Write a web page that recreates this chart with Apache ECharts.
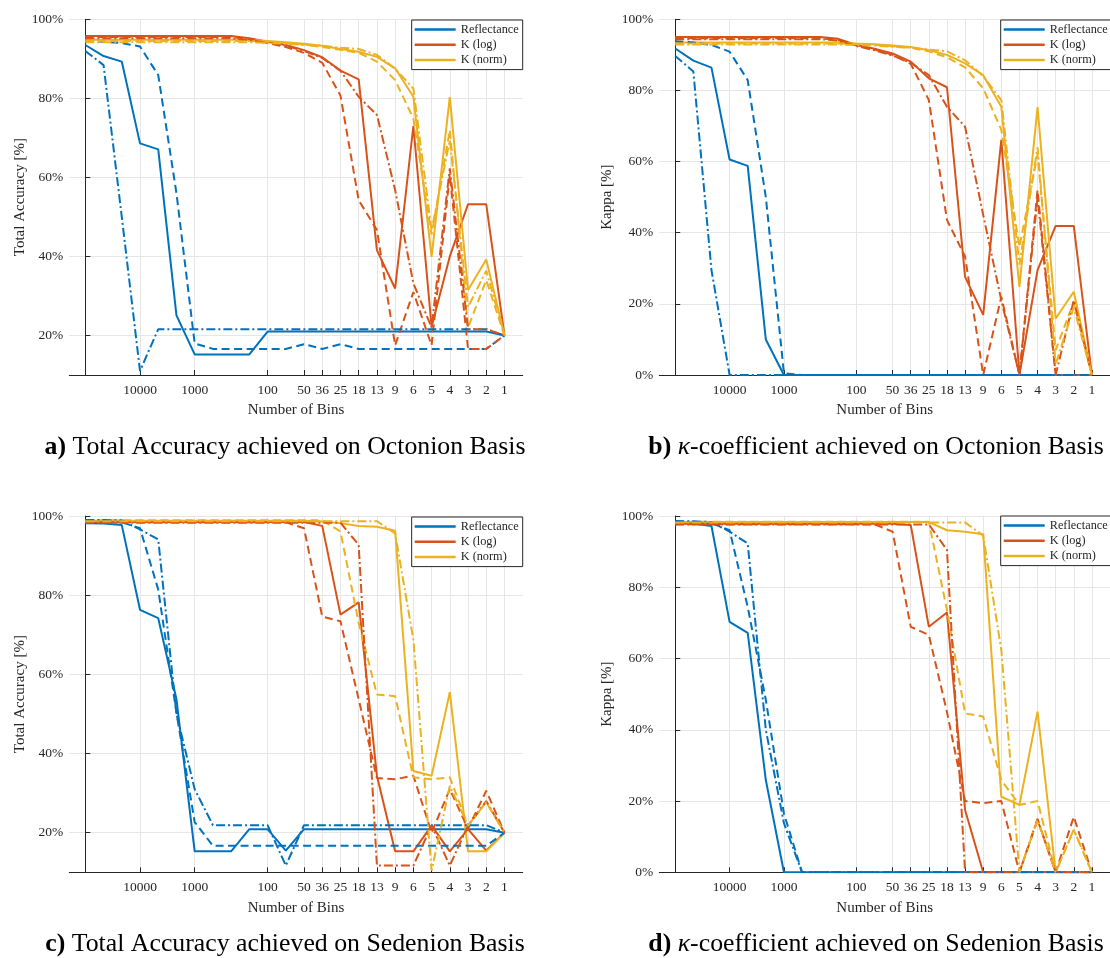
<!DOCTYPE html>
<html>
<head>
<meta charset="utf-8">
<script src="https://cdn.jsdelivr.net/npm/echarts@6/dist/echarts.min.js"></script>
<style>
  html, body { margin: 0; padding: 0; background: #fff; }
  #chart { width: 1110px; height: 958px; }
</style>
</head>
<body>
<div id="chart"></div>
<script>
// x positions are indices 0..23, only some of them carry a tick label
const xTickPos = [3, 6, 10, 12, 13, 14, 15, 16, 17, 18, 19, 20, 21, 22, 23]
const xLabels = ["10000", "1000", "100", "50", "36", "25", "18", "13", "9", "6", "5", "4", "3", "2", "1"]
const accTicks = [20, 40, 60, 80, 100]
const kappaTicks = [0, 20, 40, 60, 80, 100]
const legendNames = ["Reflectance", "K (log)", "K (norm)"]

// a) total accuracy, octonion
const aRefSolid = [93.5, 90.7, 89.3, 68.6, 67.1, 25.1, 15.2, 15.2, 15.2, 15.2, 21, 21, 21, 21, 21, 21, 21, 21, 21, 21, 21, 21, 21, 20]
const aRefDash = [94.5, 94.3, 94.0, 93.1, 85.9, 56, 18.0, 16.6, 16.6, 16.6, 16.6, 16.6, 17.8, 16.6, 17.8, 16.6, 16.6, 16.6, 16.6, 16.6, 16.6, 16.6, 16.6, 20]
const aRefDot = [92.0, 88.4, 50, 11.0, 21.6, 21.6, 21.6, 21.6, 21.6, 21.6, 21.6, 21.6, 21.6, 21.6, 21.6, 21.6, 21.6, 21.6, 21.6, 21.6, 21.6, 21.6, 21.6, 20]
const aLogSolid = [95.8, 95.8, 95.8, 95.8, 95.8, 95.8, 95.8, 95.8, 95.8, 95.2, 94.3, 93.5, 92.2, 90.4, 87.0, 84.8, 41.6, 31.9, 73.0, 22.2, 40, 53.2, 53.2, 20]
const aLogDash = [95.5, 95.5, 95.5, 95.5, 95.5, 95.5, 95.5, 95.5, 95.5, 95.0, 94.0, 93.0, 91.5, 89, 80.7, 54.2, 46.7, 17.5, 31, 17.5, 60.7, 16.6, 16.6, 20]
const aLogDot = [95.2, 95.2, 95.2, 95.2, 95.2, 95.2, 95.2, 95.2, 95.2, 94.8, 94.0, 93.3, 92.0, 90.2, 87.0, 80.4, 75.8, 56.8, 33.2, 22.0, 62.3, 21.6, 21.6, 20]
const aNormSolid = [94.8, 94.8, 94.8, 94.8, 94.8, 94.8, 94.8, 94.8, 94.8, 94.8, 94.5, 94.2, 93.8, 93.3, 92.5, 91.8, 90.5, 87.6, 80.4, 39.9, 80.3, 31.5, 39.2, 20]
const aNormDash = [94.5, 94.5, 94.5, 94.5, 94.5, 94.5, 94.5, 94.5, 94.5, 94.5, 94.3, 94.0, 93.6, 93.0, 92.3, 91.5, 89.3, 84.6, 74.9, 45.5, 72, 22, 34, 20]
const aNormDot = [94.2, 94.2, 94.2, 94.2, 94.2, 94.2, 94.2, 94.2, 94.2, 94.2, 94.0, 93.8, 93.5, 93.3, 92.8, 92.5, 91, 87.5, 82.5, 46.6, 69.4, 27.2, 36.4, 20]

// b) kappa, octonion
const bRefSolid = [91.8, 88.4, 86.4, 60.6, 58.8, 10.0, 0, 0, 0, 0, 0, 0, 0, 0, 0, 0, 0, 0, 0, 0, 0, 0, 0, 0]
const bRefDash = [93.8, 93.5, 92.8, 90.9, 82.9, 50, 0.5, 0, 0, 0, 0, 0, 0, 0, 0, 0, 0, 0, 0, 0, 0, 0, 0, 0]
const bRefDot = [89.7, 85.3, 29.5, 0, 0, 0, 0, 0, 0, 0, 0, 0, 0, 0, 0, 0, 0, 0, 0, 0, 0, 0, 0, 0]
const bLogSolid = [95.0, 95.0, 95.0, 95.0, 95.0, 95.0, 95.0, 95.0, 95.0, 94.5, 92.8, 91.7, 90.4, 88.1, 83.4, 80.9, 27.6, 16.9, 66.1, 0, 29.5, 41.9, 41.9, 0]
const bLogDash = [94.7, 94.7, 94.7, 94.7, 94.7, 94.7, 94.7, 94.7, 94.7, 94.2, 92.6, 91.5, 90, 87.5, 77.3, 43.6, 33.3, 0, 22, 0, 52, 0, 0, 0]
const bLogDot = [94.4, 94.4, 94.4, 94.4, 94.4, 94.4, 94.4, 94.4, 94.4, 94.0, 92.5, 91.3, 89.8, 87.8, 84.3, 75.4, 69.8, 45, 21, 0, 50, 0, 21, 0]
const bNormSolid = [93.5, 93.5, 93.5, 93.5, 93.5, 93.5, 93.5, 93.5, 93.5, 93.5, 93.2, 93.0, 92.6, 92.2, 91.3, 90.0, 87.6, 84.3, 75.4, 24.8, 75.3, 15.9, 23.4, 0]
const bNormDash = [93.2, 93.2, 93.2, 93.2, 93.2, 93.2, 93.2, 93.2, 93.2, 93.2, 93.0, 92.8, 92.4, 92.0, 91.0, 89.3, 86.5, 80.6, 68.9, 36, 62, 7, 20.6, 0]
const bNormDot = [92.9, 92.9, 92.9, 92.9, 92.9, 92.9, 92.9, 92.9, 92.9, 92.9, 92.8, 92.6, 92.3, 92.0, 91.5, 91.0, 88.5, 84.0, 77.3, 31, 64, 3, 19, 0]

// c) total accuracy, sedenion
const cRefSolid = [98.2, 98.1, 97.7, 76.3, 74.2, 53.7, 15.3, 15.3, 15.3, 20.9, 20.9, 15.5, 20.9, 20.9, 20.9, 20.9, 20.9, 20.9, 20.9, 20.9, 20.9, 20.9, 20.9, 20]
const cRefDash = [98.5, 98.5, 98.4, 96.9, 81.4, 50.3, 22.7, 16.7, 16.7, 16.7, 16.7, 16.7, 16.7, 16.7, 16.7, 16.7, 16.7, 16.7, 16.7, 16.7, 16.7, 16.7, 16.7, 20]
const cRefDot = [99.0, 99.0, 98.9, 96.6, 94.1, 50, 31.0, 21.9, 21.9, 21.9, 21.9, 11.7, 21.9, 21.9, 21.9, 21.9, 21.9, 21.9, 21.9, 21.9, 21.9, 21.9, 21.9, 20]
const cLogSolid = [98.5, 98.5, 98.5, 98.5, 98.5, 98.5, 98.5, 98.5, 98.5, 98.5, 98.5, 98.5, 98.5, 97.5, 75.1, 78.2, 34.4, 15.3, 15.3, 21.8, 15.3, 20.9, 15.5, 20]
const cLogDash = [98.4, 98.4, 98.4, 98.4, 98.4, 98.4, 98.4, 98.4, 98.4, 98.4, 98.4, 98.4, 96.9, 74.6, 73.4, 53.7, 33.8, 33.5, 34.4, 20, 31, 21, 30.6, 20]
const cLogDot = [98.3, 98.3, 98.3, 98.3, 98.3, 98.3, 98.3, 98.3, 98.3, 98.3, 98.3, 98.3, 98.3, 98.3, 98.3, 92.7, 11.7, 11.7, 11.7, 21.8, 11.7, 21.8, 28, 20]
const cNormSolid = [98.8, 98.8, 98.8, 98.8, 98.8, 98.8, 98.8, 98.8, 98.8, 98.8, 98.8, 98.8, 98.8, 98.6, 98.2, 97.5, 97.3, 96.3, 35.6, 34.4, 55.5, 15.3, 15.3, 20]
const cNormDash = [98.9, 98.9, 98.9, 98.9, 98.9, 98.9, 98.9, 98.9, 98.9, 98.9, 98.9, 98.9, 98.9, 98.9, 96.1, 73, 54.9, 54.5, 34, 33.5, 34, 21.8, 27.7, 20]
const cNormDot = [98.7, 98.7, 98.7, 98.7, 98.7, 98.7, 98.7, 98.7, 98.7, 98.7, 98.7, 98.7, 98.7, 98.7, 98.7, 98.7, 98.7, 95.6, 68.8, 10.4, 31.8, 21.8, 27.7, 20]

// d) kappa, sedenion
const dRefSolid = [98.1, 97.9, 97.2, 70.3, 67.2, 25.9, 0, 0, 0, 0, 0, 0, 0, 0, 0, 0, 0, 0, 0, 0, 0, 0, 0, 0]
const dRefDash = [98.4, 98.3, 98.0, 96.0, 74.5, 48.4, 16.5, 0, 0, 0, 0, 0, 0, 0, 0, 0, 0, 0, 0, 0, 0, 0, 0, 0]
const dRefDot = [98.6, 98.5, 98.3, 95.6, 92.3, 40, 13.8, 0, 0, 0, 0, 0, 0, 0, 0, 0, 0, 0, 0, 0, 0, 0, 0, 0]
const dLogSolid = [97.8, 97.8, 97.8, 97.8, 97.8, 97.8, 97.8, 97.8, 97.8, 97.8, 97.8, 97.8, 97.8, 97.5, 68.9, 72.9, 17.5, 0, 0, 0, 0, 0, 0, 0]
const dLogDash = [97.7, 97.7, 97.7, 97.7, 97.7, 97.7, 97.7, 97.7, 97.7, 97.7, 97.7, 97.7, 95.6, 68.9, 66.6, 45, 20, 19.4, 20, 0, 14.7, 0, 15.6, 0]
const dLogDot = [97.6, 97.6, 97.6, 97.6, 97.6, 97.6, 97.6, 97.6, 97.6, 97.6, 97.6, 97.6, 97.6, 97.6, 97.6, 90.5, 0, 0, 0, 0, 15, 0, 0, 0]
const dNormSolid = [98.3, 98.3, 98.3, 98.3, 98.3, 98.3, 98.3, 98.3, 98.3, 98.3, 98.3, 98.3, 98.3, 98.3, 98.3, 96, 95.6, 94.9, 21.2, 18.9, 45.1, 0, 0, 0]
const dNormDash = [98.4, 98.4, 98.4, 98.4, 98.4, 98.4, 98.4, 98.4, 98.4, 98.4, 98.4, 98.4, 98.4, 98.4, 98.4, 73.6, 44.6, 43.7, 25.9, 18.9, 20, 0, 11.9, 0]
const dNormDot = [98.2, 98.2, 98.2, 98.2, 98.2, 98.2, 98.2, 98.2, 98.2, 98.2, 98.2, 98.2, 98.2, 98.2, 98.2, 98.2, 98.2, 94.5, 62.4, 0, 14.7, 0, 12, 0]

const colors = ["#0072BD", "#D95319", "#EDB120"]
const dashes = ["solid", [8, 4.5], [9, 3, 2, 3]]
const styleTags = ["", " --", " -."]
const serif = "Liberation Serif"
const ink = "#262626"

const panels = [
  { left: 69.3, top: 19.3, h: 355.7, min: 10, ticks: accTicks, name: "Total Accuracy [%]", gap: 42, legend: { right: 587.3, top: 20 },
    lines: [[aRefSolid, aLogSolid, aNormSolid], [aRefDash, aLogDash, aNormDash], [aRefDot, aLogDot, aNormDot]] },
  { left: 659.3, top: 19.3, h: 355.7, min: 0, ticks: kappaTicks, name: "Kappa [%]", gap: 45, legend: { left: 1000.7, top: 20 },
    lines: [[bRefSolid, bLogSolid, bNormSolid], [bRefDash, bLogDash, bNormDash], [bRefDot, bLogDot, bNormDot]] },
  { left: 69.3, top: 516, h: 356.3, min: 10, ticks: accTicks, name: "Total Accuracy [%]", gap: 42, legend: { right: 587.3, top: 517 },
    lines: [[cRefSolid, cLogSolid, cNormSolid], [cRefDash, cLogDash, cNormDash], [cRefDot, cLogDot, cNormDot]] },
  { left: 659.3, top: 516, h: 356.3, min: 0, ticks: kappaTicks, name: "Kappa [%]", gap: 45, legend: { left: 1000.7, top: 516 },
    lines: [[dRefSolid, dLogSolid, dNormSolid], [dRefDash, dLogDash, dNormDash], [dRefDot, dLogDot, dNormDot]] },
]

const captions = [
  { x: 285, y: 447, text: "{b|a)} Total Accuracy achieved on Octonion Basis" },
  { x: 876, y: 447, text: "{b|b)} {k|κ}-coefficient achieved on Octonion Basis" },
  { x: 285, y: 944, text: "{b|c)} Total Accuracy achieved on Sedenion Basis" },
  { x: 876, y: 944, text: "{b|d)} {k|κ}-coefficient achieved on Sedenion Basis" },
]

const labelStyle = { fontFamily: serif, fontSize: 13.5, color: ink }

const grids = []
const xAxes = []
const yAxes = []
const series = []
const legends = []

panels.forEach((p, gi) => {
  grids.push({ left: p.left, top: p.top, width: 453.4, height: p.h })

  xAxes.push({
    type: "value", gridIndex: gi, min: -0.88, max: 24,
    name: "Number of Bins", nameLocation: "middle", nameGap: 28,
    nameTextStyle: { ...labelStyle, fontSize: 15 },
    axisLine: { show: true, lineStyle: { color: ink, width: 1 } },
    axisTick: { show: true, inside: true, length: 5, customValues: xTickPos, lineStyle: { color: ink } },
    axisLabel: {
      ...labelStyle, margin: 8, customValues: xTickPos,
      formatter: (v) => {
        const k = xTickPos.indexOf(Math.round(v))
        return k >= 0 ? xLabels[k] : ""
      },
    },
    splitLine: { show: true, lineStyle: { color: "#e6e6e6", width: 1 } },
  })

  yAxes.push({
    type: "value", gridIndex: gi, min: p.min, max: 100,
    name: p.name, nameLocation: "middle", nameGap: p.gap, nameRotate: 90,
    nameTextStyle: { ...labelStyle, fontSize: 15 },
    axisLine: { show: true, lineStyle: { color: ink, width: 1 } },
    axisTick: { show: true, inside: true, length: 5, customValues: p.ticks, lineStyle: { color: ink } },
    axisLabel: { ...labelStyle, margin: 6, customValues: p.ticks, formatter: "{value}%" },
    splitLine: { show: true, lineStyle: { color: "#e6e6e6", width: 1 } },
  })

  p.lines.forEach((row, si) => {
    row.forEach((vals, ci) => {
      series.push({
        type: "line",
        name: legendNames[ci] + styleTags[si],
        xAxisIndex: gi,
        yAxisIndex: gi,
        data: vals.map((v, i) => [i, v]),
        symbol: "none",
        animation: false,
        lineStyle: { color: colors[ci], width: 2, type: dashes[si] },
        itemStyle: { color: colors[ci] },
      })
    })
  })

  legends.push({
    ...p.legend,
    orient: "vertical",
    data: legendNames,
    icon: "rect",
    itemWidth: 41,
    itemHeight: 2.5,
    itemGap: 0.3,
    padding: [2, 4, 2, 3],
    borderColor: ink,
    borderWidth: 1,
    backgroundColor: "#fff",
    selectedMode: false,
    textStyle: { ...labelStyle, fontSize: 12.3, lineHeight: 15 },
  })
})

const chart = echarts.init(document.getElementById("chart"))

chart.setOption({
  backgroundColor: "#fff",
  animation: false,
  grid: grids,
  xAxis: xAxes,
  yAxis: yAxes,
  legend: legends,
  series: series,
  graphic: captions.map((c) => ({
    type: "text",
    x: c.x,
    y: c.y,
    style: {
      text: c.text,
      fontFamily: serif,
      fontSize: 25.8,
      fill: "#000",
      align: "center",
      verticalAlign: "middle",
      rich: {
        b: { fontFamily: serif, fontSize: 25.8, fontWeight: "bold", fill: "#000" },
        k: { fontFamily: serif, fontSize: 25.8, fontStyle: "italic", fill: "#000" },
      },
    },
  })),
})
</script>
</body>
</html>
